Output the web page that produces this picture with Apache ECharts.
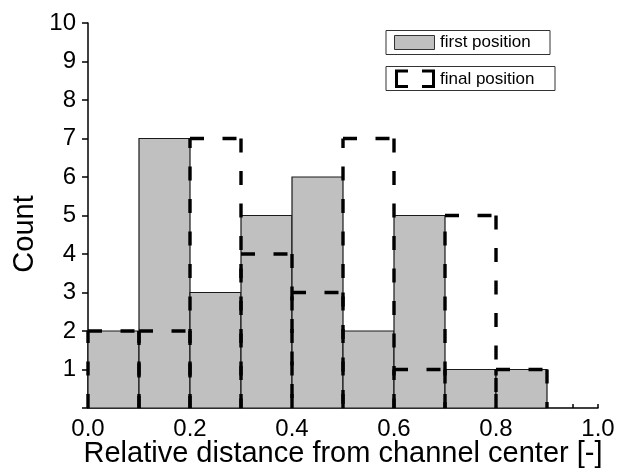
<!DOCTYPE html>
<html>
<head>
<meta charset="utf-8">
<script src="https://cdn.jsdelivr.net/npm/echarts@6/dist/echarts.min.js"></script>
<style>
html,body{margin:0;padding:0;background:#fff;}
#main{width:619px;height:472px;}
</style>
</head>
<body>
<div id="main"></div>
<script>
// Bin edges (relative distance) and counts per bin
var binEdges = [0.0, 0.1, 0.2, 0.3, 0.4, 0.5, 0.6, 0.7, 0.8, 0.9];
var firstPosition = [2, 7, 3, 5, 6, 2, 5, 1, 1];
var finalPosition = [2, 2, 7, 4, 3, 7, 1, 5, 1];
var xTickLabels = ['0.0', '0.2', '0.4', '0.6', '0.8', '1.0'];
var yTickLabels = ['', '1', '2', '3', '4', '5', '6', '7', '8', '9', '10'];
var legendNames = ['first position', 'final position'];
var xName = 'Relative distance from channel center [-]';
var yName = 'Count';

function toBins(counts) {
  var out = [];
  for (var i = 0; i < counts.length; i++) {
    out.push([binEdges[i], binEdges[i + 1], counts[i]]);
  }
  return out;
}

var FONT = '"Liberation Sans", Arial, sans-serif';
var DASH = {stroke: '#000', lineWidth: 3.4, lineDash: [14, 18.5], lineCap: 'butt'};
var chart = echarts.init(document.getElementById('main'), null, {renderer: 'canvas'});

var option = {
  animation: false,
  backgroundColor: '#ffffff',
  grid: {left: 88, right: 21, top: 23, bottom: 64, containLabel: false, outerBoundsMode: 'none'},
  xAxis: {
    type: 'value', min: 0, max: 1, interval: 0.2,
    name: xName, nameLocation: 'middle', nameGap: 31, nameMoveOverlap: false,
    nameTextStyle: {fontFamily: FONT, fontSize: 29, color: '#000'},
    axisLine: {show: true, onZero: false, lineStyle: {color: '#000', width: 1.5}},
    axisTick: {show: true, inside: true, length: 4, lineStyle: {color: '#000', width: 1.5}},
    minorTick: {show: true, splitNumber: 4, length: 4, lineStyle: {color: '#000', width: 1.5}},
    splitLine: {show: false},
    axisLabel: {
      fontFamily: FONT, fontSize: 24, color: '#000', margin: 9,
      formatter: function (v) { return xTickLabels[Math.round(v / 0.2)]; }
    }
  },
  yAxis: {
    type: 'value', min: 0, max: 10, interval: 1,
    axisLine: {show: true, onZero: false, lineStyle: {color: '#000', width: 1.5}},
    axisTick: {show: true, inside: false, length: 6, lineStyle: {color: '#000', width: 1.5}},
    splitLine: {show: false},
    axisLabel: {
      fontFamily: FONT, fontSize: 24, color: '#000', margin: 12,
      formatter: function (v) { return yTickLabels[Math.round(v)]; }
    }
  },
  series: [
    {
      name: legendNames[0],
      type: 'custom',
      z: 2,
      data: toBins(firstPosition),
      renderItem: function (params, api) {
        var p0 = api.coord([api.value(0), 0]);
        var p1 = api.coord([api.value(1), api.value(2)]);
        return {
          type: 'rect',
          shape: {x: p0[0], y: p1[1], width: p1[0] - p0[0], height: p0[1] - p1[1]},
          style: {fill: '#c0c0c0', stroke: '#1a1a1a', lineWidth: 1.2}
        };
      }
    },
    {
      name: legendNames[1],
      type: 'custom',
      z: 3,
      data: toBins(finalPosition),
      renderItem: function (params, api) {
        var p0 = api.coord([api.value(0), 0]);
        var p1 = api.coord([api.value(1), api.value(2)]);
        return {
          type: 'group',
          children: [
            {type: 'line', shape: {x1: p0[0], y1: p0[1], x2: p0[0], y2: p1[1]}, style: DASH},
            {type: 'line', shape: {x1: p0[0], y1: p1[1], x2: p1[0], y2: p1[1]}, style: DASH},
            {type: 'line', shape: {x1: p1[0], y1: p1[1], x2: p1[0], y2: p0[1]}, style: DASH}
          ]
        };
      }
    }
  ],
  graphic: [
    {type: 'text', x: 25, y: 234, rotation: Math.PI / 2,
      style: {text: yName, fontFamily: FONT, fontSize: 29, fill: '#000', align: 'center', verticalAlign: 'middle'}},
    {type: 'rect', shape: {x: 386, y: 30.5, width: 164, height: 24}, style: {fill: '#fff', stroke: '#333', lineWidth: 1}, z: 10},
    {type: 'rect', shape: {x: 394.5, y: 35.5, width: 40, height: 14}, style: {fill: '#c0c0c0', stroke: '#333', lineWidth: 1}, z: 11},
    {type: 'text', x: 440, y: 42.5, style: {text: legendNames[0], fontFamily: FONT, fontSize: 17, fill: '#000', verticalAlign: 'middle'}, z: 11},
    {type: 'rect', shape: {x: 386, y: 66.5, width: 169, height: 24}, style: {fill: '#fff', stroke: '#333', lineWidth: 1}, z: 10},
    {type: 'polyline', shape: {points: [[408, 71], [396.5, 71], [396.5, 86.5], [408, 86.5]]}, style: {fill: null, stroke: '#000', lineWidth: 3}, z: 11},
    {type: 'polyline', shape: {points: [[422, 71], [433.5, 71], [433.5, 86.5], [422, 86.5]]}, style: {fill: null, stroke: '#000', lineWidth: 3}, z: 11},
    {type: 'text', x: 440, y: 79, style: {text: legendNames[1], fontFamily: FONT, fontSize: 17, fill: '#000', verticalAlign: 'middle'}, z: 11}
  ]
};
chart.setOption(option);
</script>
</body>
</html>
